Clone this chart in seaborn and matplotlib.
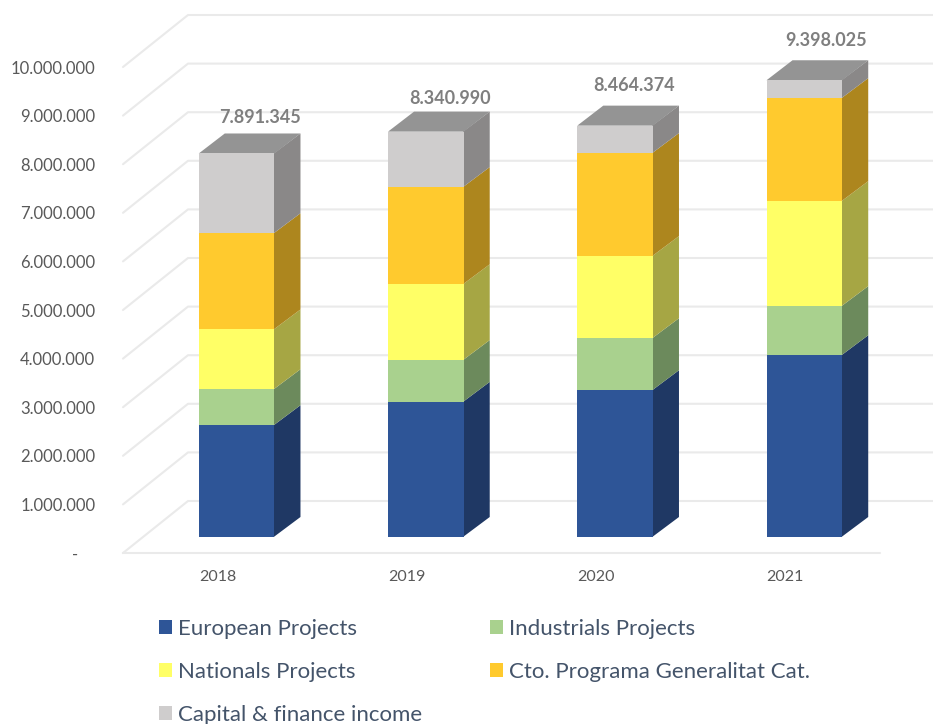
import matplotlib
matplotlib.use("Agg")
import matplotlib.pyplot as plt
from matplotlib.patches import Polygon
from matplotlib.ticker import FuncFormatter
import numpy as np
import seaborn as sns

years = ["2018", "2019", "2020", "2021"]
series_names = ["European Projects", "Industrials Projects", "Nationals Projects",
                "Cto. Programa Generalitat Cat.", "Capital & finance income"]
european = [2300000, 2780000, 3020000, 3740000]
industrials = [740000, 860000, 1070000, 1010000]
nationals = [1230000, 1560000, 1690000, 2160000]
programa = [1980000, 2000000, 2120000, 2120000]
capital = [1641345, 1140990, 564374, 368025]

front_colors = ["#2E5597", "#A9D18E", "#FFFF66", "#FFCA2E", "#CFCDCD"]
side_colors = ["#1F3864", "#6C8A5C", "#A6A644", "#AD861E", "#8A8888"]
top_color = "#949494"

W, H = 933, 724
PX_PER_CAT = 189.25
PX_PER_UNIT = 48.6 / 1e6

sns.set_theme(style="white")
plt.rcParams["font.family"] = ["Lato", "DejaVu Sans"]

fig = plt.figure(figsize=(W / 100, H / 100), dpi=100)
fig.patch.set_facecolor("white")

# back axes holds the floor and wall lines and the real ticks
ax_back = fig.add_axes([123 / W, 1 - 553 / H, 757 / W, 486 / H])
ax_back.set_xlim(-0.5, 3.5)
ax_back.set_ylim(0, 10000000)
for s in ax_back.spines.values():
    s.set_visible(False)

grid_color = "#EAEAEA"
wall_dx = 65 / PX_PER_CAT
wall_dy = 52 / PX_PER_UNIT
for v in range(0, 10000001, 1000000):
    ax_back.plot([-0.5, -0.5 + wall_dx, 4], [v, v + wall_dy, v + wall_dy],
                 color=grid_color, lw=1.5, clip_on=False, zorder=1)
ax_back.plot([-0.5, 3.5], [0, 0], color=grid_color, lw=1.5, clip_on=False, zorder=1)

ax_back.set_xticks(range(4))
ax_back.set_xticklabels(years)
ax_back.set_yticks(range(0, 10000001, 1000000))
ax_back.yaxis.set_major_formatter(FuncFormatter(
    lambda v, _: f"{int(v):,}".replace(",", ".") if v > 0 else "-    "))
ax_back.tick_params(axis="y", length=0, pad=20, labelsize=12, labelcolor="#595959")
ax_back.tick_params(axis="x", length=0, pad=12, labelsize=11.5, labelcolor="#595959")

# front axes: same scale, moved by the depth of the floor
ax = fig.add_axes([142 / W, 1 - 537 / H, 757 / W, 486 / H])
ax.patch.set_alpha(0)

all_series = [european, industrials, nationals, programa, capital]
bottom = np.zeros(4)
for values, name, col in zip(all_series, series_names, front_colors):
    sns.barplot(x=years, y=values, bottom=bottom, color=col, saturation=1,
                width=0.4, label=name, ax=ax, zorder=3, linewidth=0)
    bottom = bottom + np.array(values)
totals = bottom

ax.set_xlim(-0.5, 3.5)
ax.set_ylim(0, 10000000)
ax.axis("off")

# fake 3d: side and top faces taken from the bars
depth_x = 26 / PX_PER_CAT
depth_y = 20 / PX_PER_UNIT
overlap = 0.004  # hides the light seam along the bar edge
for n, bar in enumerate(list(ax.patches)):
    series_i = n // 4
    x1 = bar.get_x() + bar.get_width()
    x0 = bar.get_x()
    y0 = bar.get_y()
    y1 = y0 + bar.get_height()
    side = [(x1 - overlap, y0), (x1 + depth_x, y0 + depth_y),
            (x1 + depth_x, y1 + depth_y), (x1 - overlap, y1)]
    ax.add_patch(Polygon(side, closed=True, fc=side_colors[series_i], ec="none",
                         clip_on=False, zorder=2))
    if series_i == 4:
        top = [(x0, y1), (x1, y1), (x1 + depth_x, y1 + depth_y), (x0 + depth_x, y1 + depth_y)]
        ax.add_patch(Polygon(top, closed=True, fc=top_color, ec="none",
                             clip_on=False, zorder=2))

# total labels were placed by hand in the original
label_dx = [23, 24, 19, 22]
label_dy = [36, 33, 40, 40]
for i, total in enumerate(totals):
    ax.annotate(f"{int(total):,}".replace(",", "."), (i, total),
                xytext=(label_dx[i], label_dy[i]), textcoords="offset pixels",
                ha="center", va="center", fontsize=13, fontweight="bold",
                color="#7F7F7F", annotation_clip=False)

handles, labels = ax.get_legend_handles_labels()
if ax.get_legend() is not None:
    ax.get_legend().remove()
order = [0, 2, 4, 1, 3]
fig.legend([handles[i] for i in order], [labels[i] for i in order],
           ncols=2, loc="upper left", bbox_to_anchor=(159 / W, 1 - 619 / H),
           bbox_transform=fig.transFigure, frameon=False, fontsize=16,
           labelcolor="#44546A", handlelength=0.6, handleheight=0.6,
           handletextpad=0.27, labelspacing=1.03, columnspacing=3.04,
           borderpad=0, borderaxespad=0)

fig.savefig("out.png", dpi=100)
